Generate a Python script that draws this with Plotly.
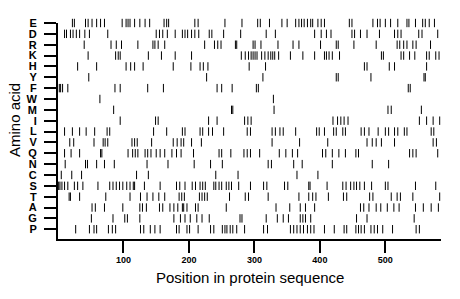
import plotly.graph_objects as go

amino_acids = ["P", "G", "A", "T", "S", "C", "N", "Q", "V", "L",
               "I", "M", "W", "F", "Y", "H", "K", "R", "D", "E"]

positions = {
    "E": [22, 25, 42, 46, 52, 59, 65, 71, 98, 104, 107, 110, 117, 125, 133, 140, 162, 166, 169, 209, 214,
          255, 281, 305, 309, 323, 342, 350, 363, 368, 372, 376, 381, 386, 389, 397, 402, 407, 445, 449,
          481, 488, 492, 500, 508, 519, 533, 536, 546, 557, 561, 567, 575],
    "D": [10, 13, 19, 23, 28, 33, 41, 48, 76, 150, 155, 160, 167, 179, 190, 194, 198, 204, 209, 215, 231,
          235, 253, 279, 318, 332, 392, 402, 410, 417, 449, 453, 462, 472, 491, 514, 519, 524, 551, 556, 580],
    "R": [40, 81, 89, 97, 122, 145, 148, 153, 163, 224, 239, 244, 249, 271, 273, 298, 301, 310, 336, 359,
          368, 401, 425, 428, 452, 486, 518, 522, 528, 533, 542, 547, 569],
    "K": [46, 88, 92, 95, 138, 158, 179, 204, 280, 286, 291, 295, 298, 301, 304, 311, 316, 321, 325, 328,
          331, 337, 355, 374, 392, 407, 410, 414, 419, 430, 494, 497, 524, 528, 537, 545, 563, 567, 577, 582],
    "H": [30, 59, 104, 111, 117, 130, 176, 203, 217, 222, 229, 292, 317, 468, 472, 506, 514, 563],
    "Y": [47, 227, 313, 425, 428, 478, 559, 561],
    "F": [2, 4, 7, 15, 87, 95, 137, 161, 243, 250, 266, 303, 306, 535, 538],
    "W": [64, 329],
    "M": [85, 265, 267, 330, 504, 509, 555],
    "I": [95, 149, 153, 230, 243, 285, 290, 295, 420, 427, 432, 437, 443, 552, 563, 573, 583],
    "L": [10, 22, 33, 43, 56, 75, 79, 146, 166, 190, 194, 217, 221, 230, 236, 253, 289, 294, 327, 332,
          339, 344, 363, 395, 399, 407, 421, 425, 435, 439, 463, 468, 475, 489, 500, 505, 514, 519, 529,
          533, 570, 574],
    "V": [18, 24, 55, 69, 72, 76, 113, 117, 121, 143, 176, 182, 188, 192, 204, 219, 327, 369, 412, 472,
          480, 486, 494, 514, 573, 578],
    "Q": [10, 20, 33, 65, 67, 107, 114, 118, 122, 133, 137, 142, 150, 156, 163, 174, 181, 188, 207, 246,
          250, 264, 284, 289, 294, 308, 338, 348, 358, 366, 404, 409, 419, 429, 439, 455, 459, 537, 542,
          547, 580],
    "N": [11, 42, 45, 59, 71, 86, 136, 168, 208, 233, 251, 321, 326, 360, 373, 419, 480, 505],
    "C": [5, 21, 36, 120, 138, 241, 275, 365, 397],
    "S": [1, 3, 6, 10, 15, 25, 30, 38, 61, 79, 84, 89, 94, 99, 105, 110, 115, 117, 132, 156, 181, 186,
          194, 205, 210, 217, 221, 225, 238, 241, 246, 250, 257, 261, 265, 276, 294, 314, 319, 346, 351,
          383, 385, 411, 435, 440, 447, 452, 456, 461, 468, 479, 500, 504, 546, 577],
    "T": [17, 19, 33, 73, 110, 126, 136, 145, 154, 163, 185, 189, 193, 216, 220, 224, 228, 262, 286, 291,
          321, 368, 383, 389, 394, 413, 436, 441, 476, 481, 509, 518, 523, 542, 583],
    "A": [52, 57, 71, 99, 125, 129, 135, 155, 160, 171, 177, 183, 190, 192, 197, 210, 214, 257, 333, 354,
          370, 378, 392, 462, 467, 475, 486, 493, 503, 513, 521, 546, 558, 570, 581],
    "G": [51, 84, 102, 106, 125, 177, 187, 194, 202, 212, 220, 231, 278, 281, 318, 335, 344, 352, 370,
          374, 378, 386, 456, 472, 544],
    "P": [27, 48, 55, 59, 77, 83, 88, 126, 131, 141, 148, 156, 181, 185, 197, 201, 214, 233, 238, 251,
          255, 258, 263, 267, 273, 285, 314, 320, 355, 360, 365, 370, 375, 381, 386, 391, 407, 422, 437,
          441, 455, 459, 463, 468, 478, 483, 488, 496, 511, 547, 552],
}

x_ticks = [100, 200, 300, 400, 500]

xs, ys = [], []
for i, aa in enumerate(amino_acids):
    for p in positions[aa]:
        xs.append(p)
        ys.append(i)

fig = go.Figure()
fig.add_trace(go.Scatter(
    x=xs, y=ys, mode="markers", cliponaxis=False,
    marker=dict(symbol="line-ns", size=6, line=dict(width=1, color="black"), color="black"),
    hoverinfo="x+y", showlegend=False,
))

font_family = "Liberation Sans, Arial, sans-serif"

fig.update_layout(
    width=460, height=299,
    margin=dict(l=58, r=19, t=23, b=60, pad=0),
    paper_bgcolor="white", plot_bgcolor="white",
    font=dict(family=font_family, color="black"),
    xaxis=dict(
        range=[0, 585], tickvals=x_ticks, ticks="outside", ticklen=12, tickwidth=2,
        tickcolor="black", showline=True, linewidth=2, linecolor="black",
        showgrid=False, zeroline=False, tickfont=dict(size=9, weight="bold"),
        ticklabelstandoff=-1,
    ),
    yaxis=dict(
        range=[-0.9, 19], tickvals=list(range(len(amino_acids))), ticktext=amino_acids,
        ticks="outside", ticklen=12, tickwidth=2, tickcolor="black",
        showline=True, linewidth=2, linecolor="black", showgrid=False, zeroline=False,
        tickfont=dict(size=11, weight="bold"), ticklabelstandoff=5,
    ),
    annotations=[
        dict(text="Position in protein sequence", xref="paper", yref="paper", x=0.5, y=0,
             xanchor="center", yanchor="middle", yshift=-38, showarrow=False,
             font=dict(size=15, family=font_family, color="black")),
        dict(text="Amino acid", xref="paper", yref="paper", x=0, y=0.5,
             xanchor="center", yanchor="middle", xshift=-44, yshift=11, textangle=-90,
             showarrow=False, font=dict(size=15, family=font_family, color="black")),
    ],
)

fig.write_html("out.html", config={"displayModeBar": False},
               post_script="document.body.style.margin='0';")
